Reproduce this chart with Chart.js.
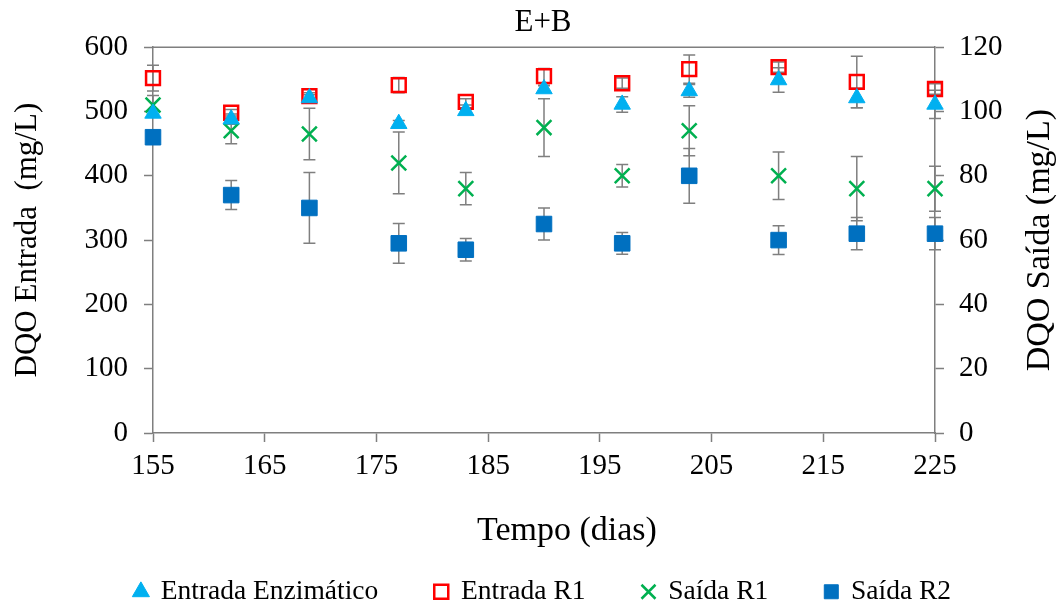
<!DOCTYPE html>
<html>
<head>
<meta charset="utf-8">
<script src="https://cdn.jsdelivr.net/npm/chart.js@4.4.1/dist/chart.umd.min.js"></script>
<style>
  html, body { margin: 0; padding: 0; background: #fff; }
  #wrap { width: 1062px; height: 606px; }
</style>
</head>
<body>
<div id="wrap"><canvas id="dqoChart"></canvas></div>
<script>
// data
const days = [155, 162, 169, 177, 183, 190, 197, 203, 211, 218, 225];
const entradaEnz = [497, 488, 521, 481, 501, 535, 511, 532, 549, 521, 511];
const entradaEnzErr = [0, 8, 5, 5, 5, 5, 12, 10, 19, 15, 22];
const entradaR1 = [552, 498, 524, 541, 515, 555, 544, 566, 569, 546, 535];
const entradaR1Err = [20, 5, 5, 12, 5, 12, 8, 22, 8, 40, 8];
const saidaR1 = [102, 94, 93, 84, 76, 95, 80, 94, 80, 76, 76];
const saidaR1Err = [3, 4, 8, 9.6, 5, 9, 3.5, 7.8, 7.4, 10, 7];
const saidaR2 = [92, 74, 70, 59, 57, 65, 59, 80, 60, 62, 62];
const saidaR2Err = [2, 4.5, 11, 6.2, 3.5, 5, 3.4, 8.5, 4.5, 5, 5];

const xTitle = "Tempo (dias)";
const rightTitle = "DQO Saída (mg/L)";
const serif = "'Liberation Serif', 'Times New Roman', serif";
const gray = "#7f7f7f";

function pts(vals) {
  return days.map((d, i) => ({ x: d, y: vals[i] }));
}

// vertical error bars, drawn under the markers
const errorBars = {
  id: "errorBars",
  beforeDatasetsDraw(chart) {
    const ctx = chart.ctx;
    const xs = chart.scales.x;
    ctx.save();
    ctx.strokeStyle = gray;
    ctx.lineWidth = 1.5;
    chart.data.datasets.forEach((ds) => {
      const ys = chart.scales[ds.yAxisID];
      ds.data.forEach((p, i) => {
        const e = ds.errors[i];
        if (!e) return;
        const px = xs.getPixelForValue(p.x);
        const top = ys.getPixelForValue(p.y + e);
        const bot = ys.getPixelForValue(p.y - e);
        ctx.beginPath();
        ctx.moveTo(px, top); ctx.lineTo(px, bot);
        ctx.moveTo(px - 6, top); ctx.lineTo(px + 6, top);
        ctx.moveTo(px - 6, bot); ctx.lineTo(px + 6, bot);
        ctx.stroke();
      });
    });
    ctx.restore();
  },
  afterDraw(chart) {
    const ctx = chart.ctx;
    const a = chart.chartArea;
    ctx.save();
    // top frame line
    ctx.strokeStyle = gray;
    ctx.lineWidth = 1.5;
    ctx.beginPath();
    ctx.moveTo(a.left, a.top);
    ctx.lineTo(a.right, a.top);
    ctx.stroke();
    ctx.fillStyle = "#000";
    ctx.font = "34px " + serif;
    ctx.textAlign = "center";
    ctx.textBaseline = "middle";
    // x axis title, sits a bit right of centre in the original
    ctx.fillText(xTitle, 567, 531);
    // right axis title, reading bottom to top
    ctx.translate(1040, (a.top + a.bottom) / 2);
    ctx.rotate(-Math.PI / 2);
    ctx.fillText(rightTitle, 0, 0);
    ctx.restore();
  }
};

const ctx = document.getElementById("dqoChart").getContext("2d");
const chart = new Chart(ctx, {
  type: "scatter",
  data: {
    datasets: [
      {
        label: "Entrada Enzimático",
        data: pts(entradaEnz),
        errors: entradaEnzErr,
        yAxisID: "y",
        pointStyle: "triangle",
        pointRadius: 9.5,
        backgroundColor: "#00b0f0",
        borderColor: "#00b0f0",
        borderWidth: 1,
        clip: false,
      },
      {
        label: "Entrada R1",
        data: pts(entradaR1),
        errors: entradaR1Err,
        yAxisID: "y",
        pointStyle: "rect",
        pointRadius: 9.8,
        backgroundColor: "rgba(0,0,0,0)",
        borderColor: "#ff0000",
        borderWidth: 2.5,
        clip: false,
      },
      {
        label: "Saída R1",
        data: pts(saidaR1),
        errors: saidaR1Err,
        yAxisID: "y2",
        pointStyle: "crossRot",
        pointRadius: 10.5,
        backgroundColor: "#00b050",
        borderColor: "#00b050",
        borderWidth: 2.5,
        clip: false,
      },
      {
        label: "Saída R2",
        data: pts(saidaR2),
        errors: saidaR2Err,
        yAxisID: "y2",
        pointStyle: "rect",
        pointRadius: 11,
        backgroundColor: "#0070c0",
        borderColor: "#0070c0",
        borderWidth: 1,
        clip: false,
      },
    ],
  },
  options: {
    responsive: true,
    maintainAspectRatio: false,
    animation: false,
    // left padding nudges the centred legend right, as in the original
    layout: { padding: { left: 24, right: 0, top: 0, bottom: 0 } },
    plugins: {
      title: {
        display: true,
        text: "E+B",
        color: "#000",
        font: { family: serif, size: 31, weight: "normal" },
        padding: { top: 4, bottom: 6 },
      },
      legend: {
        position: "bottom",
        maxHeight: 85,
        labels: {
          usePointStyle: true,
          boxWidth: 12,
          boxHeight: 14,
          padding: 57,
          color: "#000",
          font: { family: serif, size: 27.5 },
        },
      },
      tooltip: { enabled: false },
    },
    scales: {
      x: {
        type: "linear",
        min: 155,
        max: 225,
        afterFit: (s) => { s.height = 88; },
        ticks: { stepSize: 10, color: "#000", padding: 7, font: { family: serif, size: 29 } },
        grid: { drawOnChartArea: false, tickLength: 9, color: gray, tickWidth: 1.5 },
        border: { color: gray, width: 1.5 },
      },
      y: {
        position: "left",
        min: 0,
        max: 600,
        afterFit: (s) => { s.width = 129; },
        ticks: { stepSize: 100, color: "#000", padding: 16, font: { family: serif, size: 29 } },
        grid: { drawOnChartArea: false, tickLength: 9, color: gray, tickWidth: 1.5 },
        border: { color: gray, width: 1.5 },
        title: {
          display: true,
          text: "DQO Entrada  (mg/L)",
          color: "#000",
          font: { family: serif, size: 31 },
          padding: { top: -15, bottom: 0 },
        },
      },
      y2: {
        position: "right",
        min: 0,
        max: 120,
        afterFit: (s) => { s.width = 127; },
        ticks: { stepSize: 20, color: "#000", padding: 15, font: { family: serif, size: 29 } },
        grid: { drawOnChartArea: false, tickLength: 9, color: gray, tickWidth: 1.5 },
        border: { color: gray, width: 1.5 },
      },
    },
  },
  plugins: [errorBars],
});
</script>
</body>
</html>
